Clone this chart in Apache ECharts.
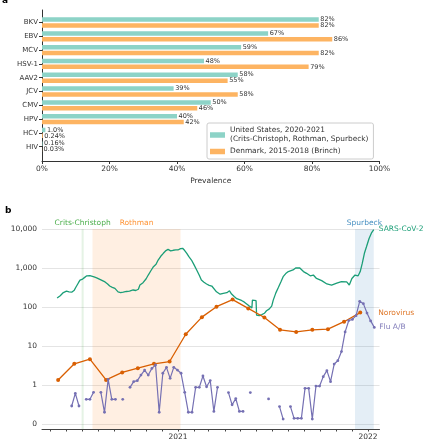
<!DOCTYPE html>
<html><head><meta charset="utf-8">
<script src="https://cdn.jsdelivr.net/npm/echarts@6/dist/echarts.min.js"></script>
<style>html,body{margin:0;padding:0;background:#fff}#c{width:424px;height:440px}</style>
</head><body><div id="c"></div>
<script>
// ---------- Panel a data ----------
const viruses = ['BKV','EBV','MCV','HSV-1','AAV2','JCV','CMV','HPV','HCV','HIV'];
const usPrevalence = [82, 67, 59, 48, 58, 39, 50, 40, 1.0, 0.16];
const dkPrevalence = [82, 86, 82, 79, 55, 58, 46, 42, 0.24, 0.03];
const usName = 'United States, 2020-2021\n(Crits-Christoph, Rothman, Spurbeck)';
const dkName = 'Denmark, 2015-2018 (Brinch)';

// ---------- Panel b data ----------
const timeRange = ['2020-04-15', '2022-01-23'];
const bandNames  = ['Crits-Christoph', 'Rothman', 'Spurbeck'];
const bandStarts = ['2020-06-30', '2020-07-21', '2021-12-07'];
const bandEnds   = ['2020-07-04', '2021-01-06', '2022-01-12'];

const sarsDates = ['2020-05-14','2020-05-20','2020-05-26','2020-06-01','2020-06-06','2020-06-11','2020-06-16','2020-06-19','2020-06-24','2020-06-27','2020-07-02','2020-07-06','2020-07-10','2020-07-13','2020-07-16','2020-07-19','2020-07-24','2020-07-29','2020-08-03','2020-08-07','2020-08-14','2020-08-19','2020-08-23','2020-08-28','2020-09-02','2020-09-05','2020-09-08','2020-09-13','2020-09-18','2020-09-24','2020-09-30','2020-10-07','2020-10-12','2020-10-17','2020-10-20','2020-10-23','2020-10-26','2020-11-01','2020-11-05','2020-11-10','2020-11-15','2020-11-20','2020-11-24','2020-11-29','2020-12-04','2020-12-09','2020-12-13','2020-12-18','2020-12-23','2020-12-28','2021-01-01','2021-01-06','2021-01-10','2021-01-14','2021-01-18','2021-01-22','2021-01-27','2021-02-01','2021-02-06','2021-02-11','2021-02-15','2021-02-20','2021-02-25','2021-03-02','2021-03-07','2021-03-10','2021-03-16','2021-03-23','2021-03-29','2021-04-05','2021-04-10','2021-04-14','2021-04-19','2021-04-24','2021-05-03','2021-05-08','2021-05-13','2021-05-18','2021-05-23','2021-05-24','2021-05-31','2021-06-01','2021-06-06','2021-06-11','2021-06-16','2021-06-20','2021-06-25','2021-06-30','2021-07-03','2021-07-08','2021-07-13','2021-07-18','2021-07-22','2021-07-27','2021-08-01','2021-08-10','2021-08-15','2021-08-18','2021-08-23','2021-08-30','2021-09-05','2021-09-12','2021-09-18','2021-09-24','2021-10-04','2021-10-14','2021-10-23','2021-11-02','2021-11-11','2021-11-21','2021-11-26','2021-12-01','2021-12-07','2021-12-13','2021-12-17','2021-12-21','2021-12-25','2021-12-29','2022-01-03','2022-01-08','2022-01-12'];
const sarsValues = [170,195,235,255,245,240,270,320,420,490,520,575,630,670,640,620,590,560,520,490,440,390,345,320,300,270,245,235,240,250,255,273,265,285,366,350,420,530,660,850,1080,1250,1600,2000,2380,2800,3000,2750,2850,2900,2900,3150,3200,2800,2380,1950,1600,1200,890,650,490,430,390,360,345,345,245,213,225,233,260,215,185,163,147,135,120,106,95,150,145,62,60,64,69,80,88,105,150,230,320,450,600,720,810,890,1000,1080,1000,810,730,630,660,540,475,390,366,410,450,440,366,540,660,630,810,1330,2380,3500,5700,8100,9700];

const noroDates = ['2020-05-16','2020-06-16','2020-07-16','2020-08-16','2020-09-16','2020-10-16','2020-11-16','2020-12-16','2021-01-16','2021-02-16','2021-03-16','2021-04-16','2021-05-16','2021-06-16','2021-07-16','2021-08-16','2021-09-16','2021-10-16','2021-11-16','2021-12-17'];
const noroValues = [1.35, 3.5, 4.6, 1.35, 2.1, 2.7, 3.5, 4.0, 20, 55, 102, 155, 92, 54, 26, 23, 26, 27, 42, 72];

const fluDates = ['2020-06-11','2020-06-18','2020-06-25','2020-07-02','2020-07-09','2020-07-16','2020-07-23','2020-07-30','2020-08-06','2020-08-13','2020-08-20','2020-08-27','2020-09-03','2020-09-10','2020-09-17','2020-09-24','2020-10-01','2020-10-08','2020-10-15','2020-10-22','2020-10-29','2020-11-05','2020-11-12','2020-11-19','2020-11-26','2020-12-03','2020-12-10','2020-12-17','2020-12-24','2020-12-31','2021-01-07','2021-01-14','2021-01-21','2021-01-28','2021-02-04','2021-02-11','2021-02-18','2021-02-25','2021-03-04','2021-03-11','2021-03-18','2021-03-25','2021-04-01','2021-04-08','2021-04-15','2021-04-22','2021-04-29','2021-05-06','2021-05-13','2021-05-20','2021-05-27','2021-06-03','2021-06-10','2021-06-17','2021-06-24','2021-07-01','2021-07-08','2021-07-15','2021-07-22','2021-07-29','2021-08-05','2021-08-12','2021-08-19','2021-08-26','2021-09-02','2021-09-09','2021-09-16','2021-09-23','2021-09-30','2021-10-07','2021-10-14','2021-10-21','2021-10-28','2021-11-04','2021-11-11','2021-11-18','2021-11-25','2021-12-02','2021-12-09','2021-12-16','2021-12-23','2021-12-30','2022-01-06','2022-01-13'];
const fluValues = [0.29,0.61,0.29,null,0.43,0.43,0.65,null,0.65,0.2,1.4,0.43,0.43,null,0.43,null,0.87,1.22,1.29,1.8,2.42,1.8,2.67,3.26,0.2,2.0,2.84,1.48,2.84,2.42,
  2.0,0.65,0.2,0.2,0.87,0.87,1.7,0.9,1.3,0.21,0.87,null,null,0.64,0.31,0.45,0.21,0.21,null,0.64,null,null,null,null,0.44,null,null,0.28,0.134,null,0.28,0.14,0.14,0.14,0.82,0.82,0.134,0.94,0.94,1.64,2.33,1.22,3.45,4.2,7.2,23,45,48,60,140,122,70,
  44,30];

// ---------- build ----------
const FONT = 'DejaVu Sans';
function ts(s){ const p = s.split('-').map(Number); return Date.UTC(p[0], p[1] - 1, p[2]); }
function pctLabel(v){ return v >= 10 ? Math.round(v) + '%' : (v >= 1 ? v.toFixed(1) + '%' : v.toFixed(2) + '%'); }
function fmtCount(v){ if (v < 0.5) return '0'; return Math.round(v).toString().replace(/\B(?=(\d{3})+(?!\d))/g, ','); }
function pairs(d, v){ return d.map((x, i) => [ts(x), v[i] == null ? '-' : v[i]]); }

const bandColors = [[44,160,44],[255,127,14],[31,119,180]];
const bandData = bandNames.map((n, i) => {
  const c = bandColors[i];
  return [{name: n, xAxis: ts(bandStarts[i]), itemStyle: {color: `rgba(${c[0]},${c[1]},${c[2]},0.12)`},
           label: {color: `rgba(${c[0]},${c[1]},${c[2]},0.85)`}},
          {xAxis: ts(bandEnds[i])}];
});

const chart = echarts.init(document.getElementById('c'));
const option = {
  animation: false,
  textStyle: {fontFamily: FONT},
  title: [
    {text: 'a', left: 2, top: -4, padding: 0, textStyle: {fontSize: 9, fontWeight: 'bold', color: '#000', fontFamily: FONT}},
    {text: 'b', left: 5, top: 206, padding: 0, textStyle: {fontSize: 9, fontWeight: 'bold', color: '#000', fontFamily: FONT}}
  ],
  legend: {
    data: [usName, dkName], orient: 'vertical', left: 207, top: 123,
    padding: [3, 5, 3, 3], itemGap: 3, itemWidth: 15, itemHeight: 5.5, icon: 'rect',
    borderColor: '#ccc', borderWidth: 1, borderRadius: 2, backgroundColor: 'rgba(255,255,255,0.85)',
    textStyle: {fontSize: 7.4, color: '#333', lineHeight: 9, fontFamily: FONT}
  },
  grid: [
    {left: 42, width: 337.5, top: 15.6, height: 138, outerBoundsMode: 'none'},
    {left: 42, width: 337.5, top: 10, height: 151, outerBoundsMode: 'none'},
    {left: 42, width: 337.5, top: 229, height: 200, outerBoundsMode: 'none'}
  ],
  xAxis: [
    {gridIndex: 0, type: 'value', min: 0, max: 100, show: false},
    {gridIndex: 1, type: 'value', min: 0, max: 100, interval: 20,
     axisLine: {show: true, lineStyle: {color: '#333'}},
     axisTick: {show: true, length: 3, lineStyle: {color: '#333'}},
     axisLabel: {formatter: '{value}%', fontSize: 7.5, color: '#333', margin: 4, fontFamily: FONT},
     splitLine: {show: false},
     name: 'Prevalence', nameLocation: 'middle', nameGap: 16,
     nameTextStyle: {fontSize: 7.5, color: '#333', fontFamily: FONT}},
    {gridIndex: 2, type: 'time', min: ts(timeRange[0]), max: ts(timeRange[1]), splitNumber: 21,
     axisLine: {show: true, lineStyle: {color: '#444'}},
     axisTick: {show: true, length: 2.5, lineStyle: {color: '#444'}},
     axisLabel: {fontSize: 7.5, color: '#333', margin: 4, fontFamily: FONT,
       formatter: {year: '{yyyy}', month: '', day: '', hour: '', minute: '', second: '', millisecond: '', none: ''}},
     splitLine: {show: false}}
  ],
  yAxis: [
    {gridIndex: 0, type: 'category', data: viruses, inverse: true,
     axisLine: {show: false},
     axisTick: {show: true, length: 3, alignWithLabel: true, lineStyle: {color: '#333'}},
     axisLabel: {fontSize: 7, color: '#333', margin: 4, fontFamily: FONT}},
    {gridIndex: 1, type: 'value', min: 0, max: 1,
     axisLine: {show: true, lineStyle: {color: '#333'}},
     axisTick: {show: false}, axisLabel: {show: false}, splitLine: {show: false}},
    {gridIndex: 2, type: 'log', logBase: 10, min: 0.0745, max: 10000,
     axisLine: {show: false}, axisTick: {show: false},
     axisLabel: {fontSize: 7.5, color: '#333', margin: 5, formatter: fmtCount, showMinLabel: false, fontFamily: FONT},
     splitLine: {show: true, lineStyle: {color: '#e4e4e4', width: 1.2}},
     name: 'Weekly Infections per 100,000', nameLocation: 'middle', nameGap: 36,
     nameTextStyle: {fontSize: 7.5, color: '#333', fontFamily: FONT}}
  ],
  series: [
    {type: 'bar', name: usName, xAxisIndex: 0, yAxisIndex: 0, data: usPrevalence,
     barWidth: 4.5, barGap: '30%', itemStyle: {color: '#8dd3c7'},
     label: {show: true, position: 'right', distance: 1.5, fontSize: 6.5, color: '#333', fontFamily: FONT,
             formatter: p => pctLabel(p.value)}},
    {type: 'bar', name: dkName, xAxisIndex: 0, yAxisIndex: 0, data: dkPrevalence,
     barWidth: 4.5, barGap: '30%', itemStyle: {color: '#fdb462'},
     label: {show: true, position: 'right', distance: 1.5, fontSize: 6.5, color: '#333', fontFamily: FONT,
             formatter: p => pctLabel(p.value)}},
    {type: 'line', name: 'bands', xAxisIndex: 2, yAxisIndex: 2, data: [], silent: true, z: 0,
     markArea: {silent: true, data: bandData,
       label: {show: true, position: 'top', distance: 2, fontSize: 7.5, fontFamily: FONT}}},
    {type: 'line', name: 'SARS-CoV-2', xAxisIndex: 2, yAxisIndex: 2, data: pairs(sarsDates, sarsValues),
     showSymbol: false, lineStyle: {color: '#1b9e77', width: 1.3}, itemStyle: {color: '#1b9e77'}, z: 3,
     endLabel: {show: true, formatter: 'SARS-CoV-2', color: '#1b9e77', fontSize: 7.5, distance: 5, fontFamily: FONT}},
    {type: 'line', name: 'Norovirus', xAxisIndex: 2, yAxisIndex: 2, data: pairs(noroDates, noroValues),
     symbol: 'circle', symbolSize: 4, lineStyle: {color: '#d95f02', width: 1.3}, itemStyle: {color: '#d95f02'}, z: 4,
     endLabel: {show: true, formatter: 'Norovirus', color: 'rgba(217,95,2,0.85)', fontSize: 7.5, distance: 18, fontFamily: FONT}},
    {type: 'line', name: 'Flu A/B', xAxisIndex: 2, yAxisIndex: 2, data: pairs(fluDates, fluValues),
     symbol: 'circle', symbolSize: 2.8, connectNulls: false, lineStyle: {color: '#7570b3', width: 1.2}, itemStyle: {color: '#7570b3'}, z: 5,
     endLabel: {show: true, formatter: 'Flu A/B', color: 'rgba(117,112,179,0.9)', fontSize: 7.5, distance: 5, fontFamily: FONT}}
  ]
};
chart.setOption(option);
</script>
</body></html>
